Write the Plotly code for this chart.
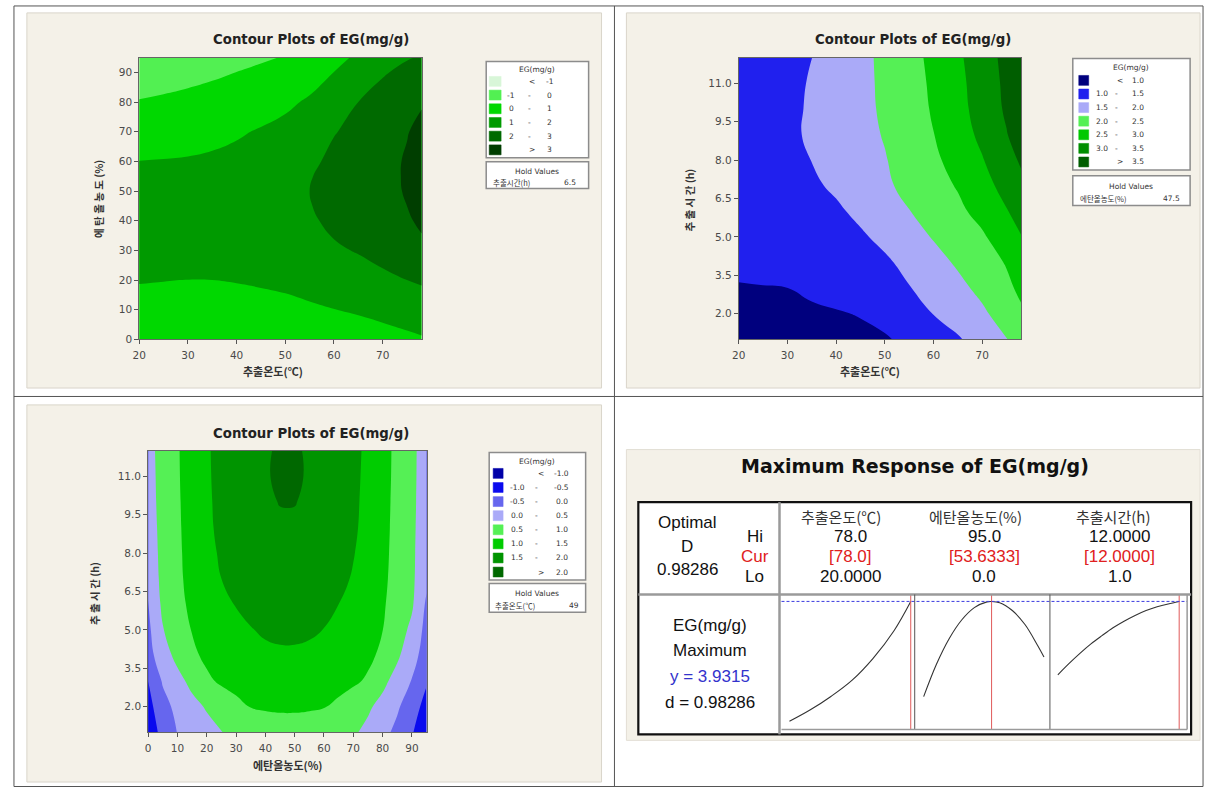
import plotly.graph_objects as go

W, H = 1209, 794

# ---------------- data ----------------
# Panel 1: EG(mg/g) over 추출온도 (x) x 에탄올농도 (y); hold 추출시간(h) = 6.5
p1_temp = [20, 25, 30, 35, 40, 45, 50, 55, 60, 65, 70, 75, 78]
p1_ethanol = [0, 10, 20, 30, 40, 45, 50, 55, 60, 70, 80, 90, 95]
p1_eg = [
    [0.14, 0.10, 0.06, 0.03, 0.02, 0.05, 0.12, 0.22, 0.33, 0.48, 0.65, 0.83, 0.93],
    [0.67, 0.64, 0.62, 0.63, 0.67, 0.72, 0.79, 0.88, 0.985, 1.12, 1.27, 1.40, 1.45],
    [1.05, 1.02, 0.995, 1.0, 1.04, 1.10, 1.17, 1.31, 1.50, 1.66, 1.84, 2.00, 2.12],
    [1.27, 1.25, 1.24, 1.24, 1.26, 1.33, 1.44, 1.63, 1.89, 2.05, 2.24, 2.52, 2.76],
    [1.34, 1.33, 1.33, 1.33, 1.36, 1.48, 1.65, 1.88, 2.18, 2.33, 2.51, 2.87, 3.18],
    [1.305, 1.30, 1.305, 1.32, 1.355, 1.49, 1.67, 1.97, 2.23, 2.40, 2.59, 3.00, 3.31],
    [1.25, 1.26, 1.27, 1.30, 1.34, 1.48, 1.66, 2.00, 2.26, 2.44, 2.65, 3.09, 3.41],
    [1.14, 1.155, 1.175, 1.215, 1.275, 1.405, 1.58, 1.96, 2.24, 2.44, 2.67, 3.11, 3.44],
    [1.01, 1.03, 1.06, 1.11, 1.19, 1.31, 1.47, 1.83, 2.19, 2.42, 2.66, 3.10, 3.44],
    [0.61, 0.65, 0.70, 0.80, 0.92, 1.06, 1.22, 1.55, 1.96, 2.21, 2.55, 2.95, 3.27],
    [0.06, 0.16, 0.28, 0.40, 0.53, 0.68, 0.85, 1.10, 1.54, 2.00, 2.30, 2.66, 2.91],
    [-0.55, -0.44, -0.32, -0.16, 0.01, 0.18, 0.35, 0.66, 1.01, 1.45, 1.93, 2.19, 2.35],
    [-0.80, -0.76, -0.70, -0.52, -0.30, -0.12, 0.05, 0.36, 0.69, 1.17, 1.69, 1.95, 2.05],
]
p1_levels = [-1, 0, 1, 2, 3]
p1_colors = ['#D8F6D8', '#52F052', '#00D800', '#009A00', '#006A00', '#003E00']
p1_xticks = [20, 30, 40, 50, 60, 70]
p1_yticks = [0, 10, 20, 30, 40, 50, 60, 70, 80, 90]

# Panel 2: EG(mg/g) over 추출온도 (x) x 추출시간 (y); hold 에탄올농도(%) = 47.5
p2_temp = [20, 25, 30, 35, 40, 45, 50, 55, 60, 65, 70, 75, 78]
p2_time = [1, 2, 3, 4, 5, 6, 7, 8, 9, 10, 11, 12]
p2_eg = [
    [0.80, 0.81, 0.825, 0.845, 0.875, 0.91, 0.96, 1.09, 1.27, 1.45, 1.706, 1.983, 2.18],
    [0.90, 0.91, 0.925, 0.945, 0.97, 1.02, 1.12, 1.28, 1.51, 1.715, 1.919, 2.214, 2.43],
    [0.985, 0.99, 0.998, 1.06, 1.14, 1.24, 1.36, 1.48, 1.68, 1.88, 2.115, 2.402, 2.593],
    [1.05, 1.08, 1.12, 1.17, 1.24, 1.32, 1.43, 1.622, 1.839, 2.06, 2.289, 2.531, 2.766],
    [1.10, 1.15, 1.21, 1.28, 1.36, 1.44, 1.61, 1.82, 2.03, 2.23, 2.435, 2.77, 2.98],
    [1.13, 1.19, 1.26, 1.34, 1.43, 1.60, 1.796, 1.988, 2.193, 2.398, 2.656, 2.969, 3.227],
    [1.15, 1.22, 1.31, 1.43, 1.57, 1.753, 1.927, 2.118, 2.321, 2.535, 2.829, 3.159, 3.386],
    [1.16, 1.275, 1.39, 1.506, 1.663, 1.819, 1.975, 2.188, 2.411, 2.676, 2.971, 3.331, 3.558],
    [1.17, 1.295, 1.42, 1.556, 1.71, 1.864, 2.028, 2.259, 2.491, 2.786, 3.104, 3.478, 3.725],
    [1.13, 1.267, 1.404, 1.55, 1.715, 1.881, 2.065, 2.299, 2.543, 2.848, 3.187, 3.567, 3.817],
    [1.10, 1.243, 1.386, 1.535, 1.71, 1.885, 2.081, 2.319, 2.573, 2.878, 3.221, 3.60, 3.85],
    [1.08, 1.219, 1.358, 1.497, 1.69, 1.884, 2.098, 2.343, 2.611, 2.92, 3.264, 3.637, 3.88],
]
p2_levels = [1.0, 1.5, 2.0, 2.5, 3.0, 3.5]
p2_colors = ['#00007E', '#2020EE', '#AAAAF8', '#55F055', '#00C800', '#008F00', '#005E00']
p2_xticks = [20, 30, 40, 50, 60, 70]
p2_yticks = [2.0, 3.5, 5.0, 6.5, 8.0, 9.5, 11.0]

# Panel 3: EG(mg/g) over 에탄올농도 (x) x 추출시간 (y); hold 추출온도(℃) = 49
p3_ethanol = [0, 5, 10, 15, 20, 25, 30, 35, 40, 45, 50, 55, 60, 65, 70, 75, 80, 85, 90, 95]
p3_time = [1, 2, 3, 4, 5, 6, 7, 8, 9, 10, 11, 12]
p3_eg = [
    [-0.766, -0.363, 0.016, 0.173, 0.330, 0.487, 0.623, 0.724, 0.791, 0.825,
     0.826, 0.799, 0.746, 0.667, 0.560, 0.379, 0.145, -0.128, -0.466, -0.804],
    [-0.667, -0.176, 0.136, 0.347, 0.547, 0.72, 0.89, 1.012, 1.040, 1.054,
     1.054, 1.042, 1.017, 0.912, 0.743, 0.574, 0.344, 0.067, -0.288, -0.667],
    [-0.50, 0.048, 0.345, 0.635, 0.916, 1.065, 1.141, 1.198, 1.237, 1.256,
     1.256, 1.237, 1.201, 1.145, 1.072, 0.938, 0.625, 0.305, -0.026, -0.457],
    [-0.18, 0.281, 0.637, 0.912, 1.091, 1.205, 1.297, 1.366, 1.411, 1.434,
     1.434, 1.412, 1.366, 1.299, 1.208, 1.095, 0.908, 0.579, 0.189, -0.24],
    [-0.105, 0.477, 0.758, 1.02, 1.14, 1.26, 1.37, 1.48, 1.555, 1.589,
     1.589, 1.557, 1.492, 1.367, 1.246, 1.126, 1.005, 0.727, 0.389, -0.167],
    [-0.03, 0.604, 0.879, 1.09, 1.25, 1.39, 1.521, 1.621, 1.687, 1.72,
     1.719, 1.683, 1.61, 1.50, 1.355, 1.21, 1.048, 0.823, 0.563, -0.076],
    [0.15, 0.633, 0.911, 1.14, 1.32, 1.50, 1.631, 1.729, 1.794, 1.827,
     1.827, 1.791, 1.719, 1.612, 1.462, 1.28, 1.083, 0.854, 0.594, 0.10],
    [0.22, 0.642, 0.926, 1.16, 1.37, 1.559, 1.70, 1.805, 1.876, 1.911,
     1.91, 1.871, 1.794, 1.677, 1.522, 1.32, 1.105, 0.866, 0.597, 0.16],
    [0.27, 0.649, 0.937, 1.18, 1.41, 1.605, 1.751, 1.86, 1.933, 1.969,
     1.969, 1.929, 1.849, 1.728, 1.568, 1.36, 1.124, 0.874, 0.599, 0.21],
    [0.31, 0.657, 0.948, 1.192, 1.425, 1.625, 1.778, 1.893, 1.969, 2.007,
     2.007, 1.965, 1.882, 1.757, 1.591, 1.373, 1.137, 0.882, 0.601, 0.25],
    [0.33, 0.665, 0.959, 1.203, 1.439, 1.639, 1.793, 1.909, 1.987, 2.025,
     2.025, 1.983, 1.90, 1.774, 1.607, 1.389, 1.149, 0.891, 0.603, 0.27],
    [0.35, 0.671, 0.965, 1.21, 1.448, 1.644, 1.795, 1.908, 1.983, 2.02,
     2.02, 1.98, 1.90, 1.78, 1.619, 1.406, 1.158, 0.895, 0.605, 0.28],
]
p3_levels = [-1.0, -0.5, 0.0, 0.5, 1.0, 1.5, 2.0]
p3_colors = ['#0000A8', '#0A0AEE', '#6666EE', '#AAAAF8', '#55F055', '#00CC00', '#009400', '#006800']
p3_xticks = [0, 10, 20, 30, 40, 50, 60, 70, 80, 90]
p3_yticks = [2.0, 3.5, 5.0, 6.5, 8.0, 9.5, 11.0]

# Optimizer (Maximum Response) panel
factor_names = ['추출온도(℃)', '에탄올농도(%)', '추출시간(h)']
factor_hi = ['78.0', '95.0', '12.0000']
factor_cur = ['[78.0]', '[53.6333]', '[12.0000]']
factor_lo = ['20.0000', '0.0', '1.0']
factor_cur_val = [78.0, 53.6333, 12.0]
y_opt = 3.9315
d_opt = 0.98286

trace_temp_x = [20, 30, 40, 50, 60, 70, 78]
trace_temp_y = [1.02, 1.30, 1.63, 2.02, 2.55, 3.22, 3.93]
trace_eth_x = [0, 10, 20, 30, 40, 50, 53.6333, 60, 70, 80, 90, 95]
trace_eth_y = [1.62, 2.40, 3.02, 3.48, 3.78, 3.92, 3.93, 3.90, 3.71, 3.37, 2.86, 2.58]
trace_time_x = [1, 2, 3, 4, 5, 6, 7, 8, 9, 10, 11, 12]
trace_time_y = [2.15, 2.42, 2.67, 2.90, 3.10, 3.29, 3.45, 3.59, 3.71, 3.80, 3.87, 3.93]

hold_values = [('추출시간(h)', '6.5'), ('에탄올농도(%)', '47.5'), ('추출온도(℃)', '49')]

# ---------------- helpers ----------------
def fx(x):
    return x / W


def fy(y):
    return 1 - y / H


BEIGE = '#F4F1E8'
KR = 'Noto Sans CJK KR'
shapes = []
annotations = []


def rect(x0, y0, x1, y1, fill=None, line='#888', lw=1, layer='above'):
    shapes.append(dict(type='rect', xref='paper', yref='paper', x0=fx(x0), x1=fx(x1),
                       y0=fy(y1), y1=fy(y0), fillcolor=fill or 'rgba(0,0,0,0)',
                       line=dict(color=line, width=lw), layer=layer))


def hline(x0, x1, y, color='#555', lw=1, dash='solid', layer='above'):
    shapes.append(dict(type='line', xref='paper', yref='paper', x0=fx(x0), x1=fx(x1),
                       y0=fy(y), y1=fy(y), line=dict(color=color, width=lw, dash=dash), layer=layer))


def vline(x, y0, y1, color='#555', lw=1, layer='above'):
    shapes.append(dict(type='line', xref='paper', yref='paper', x0=fx(x), x1=fx(x),
                       y0=fy(y0), y1=fy(y1), line=dict(color=color, width=lw), layer=layer))


def text(x, y, s, size=10, color='#222', family='DejaVu Sans', xanchor='center', angle=0):
    annotations.append(dict(x=fx(x), y=fy(y), xref='paper', yref='paper', text=s, showarrow=False,
                            xanchor=xanchor, yanchor='middle', textangle=angle,
                            font=dict(size=size, color=color, family=family)))


def band_scale(colors):
    n = len(colors) - 1
    return [[i / n, c] for i, c in enumerate(colors)]


def fmt(v, dec):
    return f'{v:.{dec}f}'


fig = go.Figure()

# ---------------- contour panels ----------------
panels = [
    dict(ax='', x=p1_temp, y=p1_ethanol, z=p1_eg, lev=p1_levels, col=p1_colors, dec=0,
         box=(133, 58, 417, 342), xr=[20, 78], yr=[0, 95], xt=p1_xticks, yt=p1_yticks,
         ytd=0, title_xy=(306, 40), xtitle='추출온도(℃)', xtitle_xy=(268, 374),
         ytitle='에 탄 올 농 도 (%)', ytitle_xy=(92, 200),
         leg=dict(x0=482, x1=585, y0=62, title_y=70, row0=82, dy=13.8, sw=(485, 497),
                  xlo=507, xdash=526, xlt=528, xhi=546, hold=(163, 190), hold_name_x=487, hold_val_x=566),
         hold=hold_values[0]),
    dict(ax='2', x=p2_temp, y=p2_time, z=p2_eg, lev=p2_levels, col=p2_colors, dec=1,
         box=(736, 58, 1020, 342), xr=[20, 78], yr=[1, 12], xt=p2_xticks, yt=p2_yticks,
         ytd=1, title_xy=(911, 40), xtitle='추출온도(℃)', xtitle_xy=(868, 374),
         ytitle='추 출 시 간 (h)', ytitle_xy=(686, 202),
         leg=dict(x0=1072, x1=1190, y0=59, title_y=68, row0=81, dy=13.7, sw=(1078, 1088),
                  xlo=1101, xdash=1116, xlt=1119, xhi=1138, hold=(177, 207), hold_name_x=1077, hold_val_x=1171),
         hold=hold_values[1]),
    dict(ax='3', x=p3_ethanol, y=p3_time, z=p3_eg, lev=p3_levels, col=p3_colors, dec=1,
         box=(142, 454, 422, 738), xr=[0, 95], yr=[1, 12], xt=p3_xticks, yt=p3_yticks,
         ytd=1, title_xy=(306, 437), xtitle='에탄올농도(%)', xtitle_xy=(283, 771),
         ytitle='추 출 시 간 (h)', ytitle_xy=(88, 598),
         leg=dict(x0=485, x1=582, y0=456, title_y=465, row0=477, dy=14.2, sw=(489, 499),
                  xlo=513, xdash=533, xlt=537, xhi=558, hold=(588, 617), hold_name_x=489, hold_val_x=570),
         hold=hold_values[2]),
]

layout_axes = {}
for p in panels:
    ax = p['ax']
    lev = p['lev']
    size = lev[1] - lev[0]
    fig.add_trace(go.Contour(
        x=p['x'], y=p['y'], z=p['z'], xaxis='x' + ax, yaxis='y' + ax,
        autocontour=False,
        contours=dict(start=lev[0], end=lev[-1], size=size, coloring='fill', showlines=False),
        colorscale=band_scale(p['col']), showscale=False,
        line=dict(width=0, smoothing=1.3), hoverinfo='skip'))
    x0, y0, x1, y1 = p['box']
    axstyle = dict(showgrid=False, zeroline=False, ticks='outside', ticklen=4, tickwidth=1,
                   tickcolor='#555', showline=True, linecolor='#666', linewidth=1, mirror=True,
                   tickfont=dict(family='DejaVu Sans', size=10.5, color='#4A4A4A'))
    layout_axes['xaxis' + ax] = dict(domain=[fx(x0), fx(x1)], range=p['xr'], anchor='y' + ax,
                                     tickvals=p['xt'], ticktext=[str(v) for v in p['xt']],
                                     ticklabelstandoff=2, **axstyle)
    layout_axes['yaxis' + ax] = dict(domain=[fy(y1), fy(y0)], range=p['yr'], anchor='x' + ax,
                                     tickvals=p['yt'], ticktext=[fmt(v, p['ytd']) for v in p['yt']],
                                     **axstyle)
    # titles
    text(*p['title_xy'], '<b>Contour Plots of EG(mg/g)</b>', size=13.3, color='#222')
    text(*p['xtitle_xy'], '<b>' + p['xtitle'] + '</b>', size=11, color='#333', family=KR)
    text(*p['ytitle_xy'], '<b>' + p['ytitle'] + '</b>', size=10.5, color='#333', family=KR, angle=-90)
    # legend box
    L = p['leg']
    nrows = len(p['col'])
    box_bottom = L['row0'] + L['dy'] * (nrows - 1) + 8
    rect(L['x0'], L['y0'], L['x1'], box_bottom, fill='white', line='#8C8C8C', lw=1.5)
    text((L['x0'] + L['x1']) / 2, L['title_y'], 'EG(mg/g)', size=7.5, color='#333')
    for i, c in enumerate(p['col']):
        yc = L['row0'] + L['dy'] * i
        rect(L['sw'][0], yc - 5, L['sw'][1], yc + 5, fill=c, line=c, lw=0.5)
        if i == 0:
            text(L['xlt'], yc, '&lt;', size=7.5, color='#333')
            text(L['xhi'], yc, fmt(lev[0], p['dec']), size=7.5, color='#333')
        elif i == nrows - 1:
            text(L['xlt'], yc, '&gt;', size=7.5, color='#333')
            text(L['xhi'], yc, fmt(lev[-1], p['dec']), size=7.5, color='#333')
        else:
            text(L['xlo'], yc, fmt(lev[i - 1], p['dec']), size=7.5, color='#333')
            text(L['xdash'], yc, '-', size=7.5, color='#333')
            text(L['xhi'], yc, fmt(lev[i], p['dec']), size=7.5, color='#333')
    hy0, hy1 = L['hold']
    rect(L['x0'], hy0, L['x1'], hy1, fill='white', line='#8C8C8C', lw=1.5)
    text((L['x0'] + L['x1']) / 2, hy0 + (hy1 - hy0) * 0.36, 'Hold Values', size=7.5, color='#333')
    text(L['hold_name_x'], hy0 + (hy1 - hy0) * 0.76, p['hold'][0], size=7.5, color='#333',
         family=KR, xanchor='left')
    text(L['hold_val_x'], hy0 + (hy1 - hy0) * 0.76, p['hold'][1], size=7.5, color='#333')

# ---------------- optimizer traces ----------------
sub_x = [(779, 913), (913, 1049), (1049, 1187)]
sub_y = (599, 735)
sub_ranges = [[16.2, 79.9], [-7.07, 99.7], [0.28, 12.72]]
y_range = [0.823, 4.1]
traces = [(trace_temp_x, trace_temp_y), (trace_eth_x, trace_eth_y), (trace_time_x, trace_time_y)]
for k, ((tx, ty), (sx0, sx1), xr) in enumerate(zip(traces, sub_x, sub_ranges)):
    n = str(k + 4)
    fig.add_trace(go.Scatter(x=tx, y=ty, mode='lines', xaxis='x' + n, yaxis='y' + n,
                             line=dict(color='#333', width=1.1, shape='spline'), hoverinfo='skip'))
    layout_axes['xaxis' + n] = dict(domain=[fx(sx0), fx(sx1)], range=xr, visible=False, anchor='y' + n)
    layout_axes['yaxis' + n] = dict(domain=[fy(sub_y[1]), fy(sub_y[0])], range=y_range, visible=False,
                                    anchor='x' + n)
    shapes.append(dict(type='line', xref='x' + n, yref='paper', x0=factor_cur_val[k], x1=factor_cur_val[k],
                       y0=fy(sub_y[1]), y1=fy(sub_y[0]), line=dict(color='#E05A5A', width=1)))
shapes.append(dict(type='line', xref='paper', yref='y4', x0=fx(779), x1=fx(1187), y0=y_opt, y1=y_opt,
                   line=dict(color='#3C3CE0', width=1, dash='3px,2px')))

# ---------------- background / frames ----------------
rect(20, 13, 598, 391, fill=BEIGE, line='#D9D5CA', lw=1, layer='below')
rect(623, 13, 1200, 391, fill=BEIGE, line='#D9D5CA', lw=1, layer='below')
rect(20, 408, 598, 788, fill=BEIGE, line='#D9D5CA', lw=1, layer='below')
rect(623, 453, 1200, 746, fill=BEIGE, line='#E2DED4', lw=1, layer='below')
rect(635, 506, 1191, 740, fill='white', line='#111', lw=2.2, layer='below')
hline(635, 1191, 599, color='#9A9A9A', lw=2.5)
vline(777, 506, 740, color='#9A9A9A', lw=2.5)
vline(913, 599, 735, color='#555', lw=1)
vline(1049, 599, 735, color='#555', lw=1)
hline(779, 1187, 735, color='#9A9A9A', lw=1.5)
vline(1187, 599, 735, color='#9A9A9A', lw=1.5)
for yy in (6, 399.5, 792.5):
    hline(7, 1203, yy, color='#555', lw=1)
for xx in (7, 611, 1203):
    vline(xx, 6, 792.5, color='#555', lw=1)

# ---------------- optimizer texts ----------------
AR = 'Liberation Sans'
text(913, 470, '<b>Maximum Response of EG(mg/g)</b>', size=19, color='#111')
text(684, 526, 'Optimal', size=17, family=AR, color='#111')
text(684, 551, 'D', size=17, family=AR, color='#111')
text(684, 574, fmt(d_opt, 5), size=17, family=AR, color='#111')
text(752, 541, 'Hi', size=17, family=AR, color='#111')
text(752, 561, 'Cur', size=17, family=AR, color='#E02020')
text(752, 581, 'Lo', size=17, family=AR, color='#111')
head_x = [839, 974, 1112]
val_x = [848, 983, 1119]
for i in range(3):
    text(head_x[i], 520, factor_names[i], size=15, family=KR, color='#333')
    text(val_x[i], 541, factor_hi[i], size=17, family=AR, color='#111')
    text(val_x[i], 561, factor_cur[i], size=17, family=AR, color='#E02020')
    text(val_x[i], 581, factor_lo[i], size=17, family=AR, color='#111')
text(707, 630, 'EG(mg/g)', size=17, family=AR, color='#111')
text(707, 655, 'Maximum', size=17, family=AR, color='#111')
text(707, 682, f'y = {y_opt:.4f}', size=17, family=AR, color='#3333CC')
text(707, 708, f'd = {d_opt:.5f}', size=17, family=AR, color='#111')

fig.update_layout(
    width=W, height=H, margin=dict(l=0, r=0, t=0, b=0),
    paper_bgcolor='white', plot_bgcolor='rgba(0,0,0,0)', showlegend=False,
    shapes=shapes, annotations=annotations, **layout_axes)

fig.write_html('out.html')
